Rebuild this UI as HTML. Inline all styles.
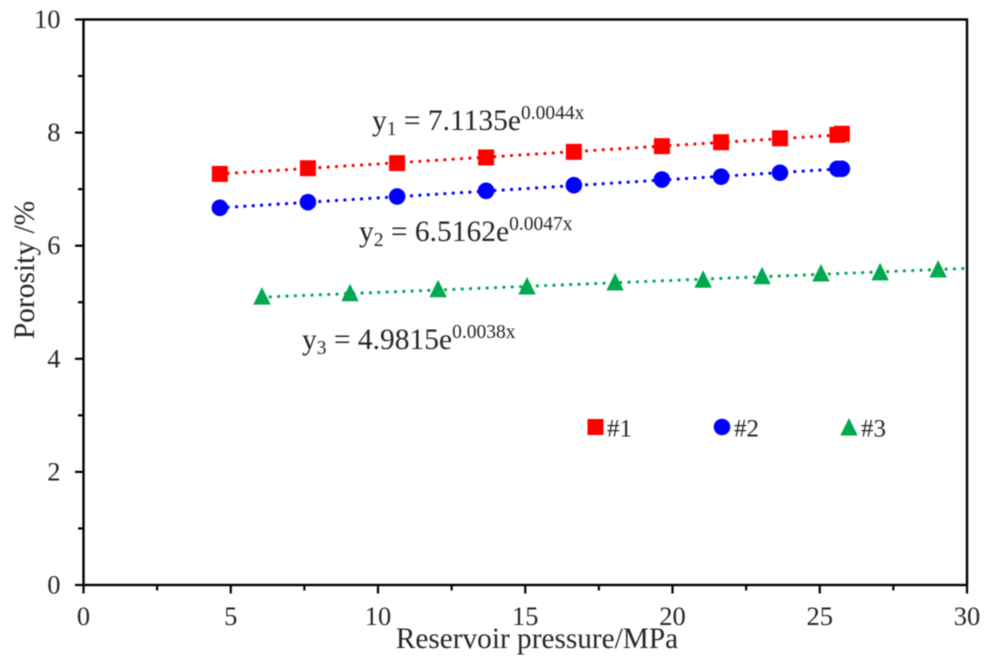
<!DOCTYPE html>
<html>
<head>
<meta charset="utf-8">
<style>
html,body{margin:0;padding:0;background:#fff;width:1002px;height:668px;overflow:hidden}
svg{display:block;filter:blur(0.5px)}
text{font-family:"Liberation Serif",serif;fill:#262626}
</style>
</head>
<body>
<svg id="chart" width="1002" height="668" viewBox="0 0 1002 668" xmlns="http://www.w3.org/2000/svg">
  <g id="trends"></g>
  <g id="axes"></g>
  <g id="marks"></g>
  <text x="537" y="648" font-size="29.3" text-anchor="middle">Reservoir pressure/MPa</text>
  <text transform="translate(34,270) rotate(-90)" font-size="29.5" text-anchor="middle">Porosity /%</text>
  <text x="372" y="130" font-size="29.5">y<tspan font-size="19.5" dy="5">1</tspan><tspan dy="-5"> = 7.1135e</tspan><tspan font-size="19.5" dy="-11">0.0044x</tspan></text>
  <text x="359" y="241" font-size="29.5">y<tspan font-size="19.5" dy="5">2</tspan><tspan dy="-5"> = 6.5162e</tspan><tspan font-size="19.5" dy="-11">0.0047x</tspan></text>
  <text x="302" y="349" font-size="29.5">y<tspan font-size="19.5" dy="5">3</tspan><tspan dy="-5"> = 4.9815e</tspan><tspan font-size="19.5" dy="-11">0.0038x</tspan></text>
  <g id="legend"></g>
</svg>
<script>
var xTicks = [0, 5, 10, 15, 20, 25, 30];
var yTicks = [0, 2, 4, 6, 8, 10];
var xMinorTicks = [2.5, 7.5, 12.5, 17.5, 22.5, 27.5];
var yMinorTicks = [1, 3, 5, 7, 9];

var pressure1 = [4.63, 7.62, 10.65, 13.67, 16.65, 19.64, 21.65, 23.65, 25.6, 25.75];
var porosity1 = [7.27, 7.37, 7.46, 7.56, 7.66, 7.76, 7.83, 7.9, 7.96, 7.98];
var pressure2 = [4.63, 7.62, 10.65, 13.67, 16.65, 19.64, 21.65, 23.65, 25.6, 25.75];
var porosity2 = [6.67, 6.77, 6.87, 6.97, 7.07, 7.17, 7.22, 7.29, 7.36, 7.36];
var pressure3 = [6.06, 9.05, 12.04, 15.06, 18.05, 21.04, 23.04, 25.04, 27.05, 29.02];
var porosity3 = [5.09, 5.15, 5.22, 5.27, 5.34, 5.39, 5.45, 5.5, 5.52, 5.57];

var trendPressure1 = [4.63, 25.7];
var trendPorosity1 = [7.27, 7.96];
var trendPressure2 = [4.63, 25.7];
var trendPorosity2 = [6.67, 7.36];
var trendPressure3 = [6.06, 30];
var trendPorosity3 = [5.09, 5.6];

var NS = 'http://www.w3.org/2000/svg';
function sx(v) { return 83.5 + v * (883.5 / 30); }
function sy(v) { return 585 - v * (565.5 / 10); }
function make(tag, parent, attrs) {
  var el = document.createElementNS(NS, tag);
  for (var k in attrs) el.setAttribute(k, attrs[k]);
  parent.appendChild(el);
  return el;
}
var RED = '#ff0000', BLUE = '#0000ff', GREEN = '#00a850';

var axes = document.getElementById('axes');
var frame = make('rect', axes, {x: sx(0), y: sy(10), width: sx(30) - sx(0), height: sy(0) - sy(10), fill: 'none', stroke: '#000', 'stroke-width': 2.4});



xTicks.forEach(function (t) {
  var tick = make('line', axes, {x1: sx(t), x2: sx(t), y1: sy(0), y2: sy(0) + 8.5, stroke: '#000', 'stroke-width': 2.2});
  
  
  var label = make('text', axes, {x: sx(t), y: 625, 'font-size': 26.5, 'text-anchor': 'middle'});
  
  
  label.textContent = t;
});
xMinorTicks.forEach(function (t) {
  var tick = make('line', axes, {x1: sx(t), x2: sx(t), y1: sy(0), y2: sy(0) + 5.5, stroke: '#000', 'stroke-width': 2.2});
  
  
});
yTicks.forEach(function (t) {
  var tick = make('line', axes, {x1: sx(0) - 8.5, x2: sx(0), y1: sy(t), y2: sy(t), stroke: '#000', 'stroke-width': 2.2});
  
  
  var label = make('text', axes, {x: 60.5, y: sy(t) + 8.5, 'font-size': 26.5, 'text-anchor': 'end'});
  
  
  label.textContent = t;
});
yMinorTicks.forEach(function (t) {
  var tick = make('line', axes, {x1: sx(0) - 5.5, x2: sx(0), y1: sy(t), y2: sy(t), stroke: '#000', 'stroke-width': 2.2});
  
  
});

function square(parent, cx, cy, color) {
  return make('rect', parent, {x: cx - 8, y: cy - 8, width: 16, height: 16, fill: color});
}
function circle(parent, cx, cy, color) {
  return make('circle', parent, {cx: cx, cy: cy, r: 8.3, fill: color});
}
function triangle(parent, cx, cy, color) {
  return make('polygon', parent, {points: cx + ',' + (cy - 10) + ' ' + (cx + 8.7) + ',' + (cy + 7.5) + ' ' + (cx - 8.7) + ',' + (cy + 7.5), fill: color});
}

var trends = document.getElementById('trends');
var marks = document.getElementById('marks');
function drawSeries(name, xs, ys, tx, ty, color, shape) {
  var line = make('line', trends, {x1: sx(tx[0]), y1: sy(ty[0]), x2: sx(tx[1]), y2: sy(ty[1]), stroke: color, 'stroke-width': 3.2, 'stroke-linecap': 'round', 'stroke-dasharray': '0 8.35'});
  
  
  xs.forEach(function (x, i) {
    var m = shape(marks, sx(x), sy(ys[i]), color);
    
    
  });
}
drawSeries('1', pressure1, porosity1, trendPressure1, trendPorosity1, RED, square);
drawSeries('2', pressure2, porosity2, trendPressure2, trendPorosity2, BLUE, circle);
drawSeries('3', pressure3, porosity3, trendPressure3, trendPorosity3, GREEN, triangle);

var legend = document.getElementById('legend');
var k1 = square(legend, 595.5, 427, RED);


var k2 = circle(legend, 722, 427, BLUE);


var k3 = triangle(legend, 849, 428, GREEN);


var t1 = make('text', legend, {x: 607, y: 436.5, 'font-size': 25});


t1.textContent = '#1';
var t2 = make('text', legend, {x: 734, y: 436.5, 'font-size': 25});


t2.textContent = '#2';
var t3 = make('text', legend, {x: 861, y: 436.5, 'font-size': 25});


t3.textContent = '#3';
</script>
</body>
</html>
